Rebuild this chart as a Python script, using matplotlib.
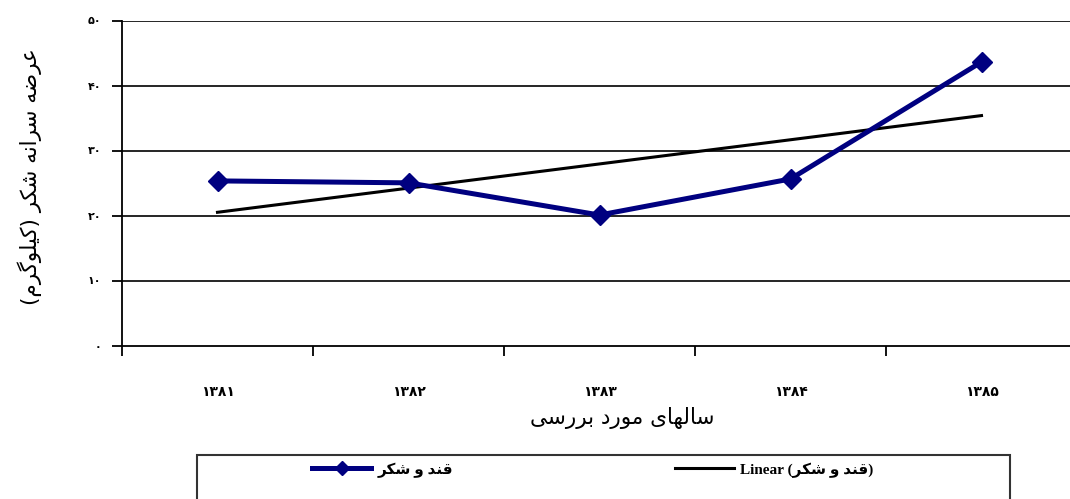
import numpy as np
import matplotlib
matplotlib.use('Agg')
from matplotlib import pyplot as plt
from matplotlib.patches import Rectangle

# data
years = ['۱۳۸۱', '۱۳۸۲', '۱۳۸۳', '۱۳۸۴', '۱۳۸۵']
sugar = [25.4, 25.1, 20.15, 25.7, 43.7]
y_ticks = [0, 10, 20, 30, 40, 50]
y_tick_labels = ['۰', '۱۰', '۲۰', '۳۰', '۴۰', '۵۰']

series_name = 'قند و شکر'
x_title = 'سالهای مورد بررسی'
y_title = 'عرضه سرانه شکر (کیلوگرم)'

# matplotlib has no arabic shaping, so pick the joined glyph forms by hand
FORMS = {
    'ا': ('\uFE8D', '\uFE8E'), 'د': ('\uFEA9', '\uFEAA'), 'ر': ('\uFEAD', '\uFEAE'),
    'و': ('\uFEED', '\uFEEE'),
    'ب': ('\uFE8F', '\uFE90', '\uFE91', '\uFE92'), 'س': ('\uFEB1', '\uFEB2', '\uFEB3', '\uFEB4'),
    'ش': ('\uFEB5', '\uFEB6', '\uFEB7', '\uFEB8'), 'ض': ('\uFEBD', '\uFEBE', '\uFEBF', '\uFEC0'),
    'ع': ('\uFEC9', '\uFECA', '\uFECB', '\uFECC'), 'ق': ('\uFED5', '\uFED6', '\uFED7', '\uFED8'),
    'ک': ('\uFB8E', '\uFB8F', '\uFB90', '\uFB91'), 'گ': ('\uFB92', '\uFB93', '\uFB94', '\uFB95'),
    'ل': ('\uFEDD', '\uFEDE', '\uFEDF', '\uFEE0'), 'م': ('\uFEE1', '\uFEE2', '\uFEE3', '\uFEE4'),
    'ن': ('\uFEE5', '\uFEE6', '\uFEE7', '\uFEE8'), 'ه': ('\uFEE9', '\uFEEA', '\uFEEB', '\uFEEC'),
    'ی': ('\uFBFC', '\uFBFD', '\uFBFE', '\uFBFF'),
}
MIRROR = {'(': ')', ')': '('}


def rtl(s):
    out = []
    for i, ch in enumerate(s):
        f = FORMS.get(ch)
        if f is None:
            out.append(ch)
            continue
        prev = s[i - 1] if i > 0 else ''
        nxt = s[i + 1] if i + 1 < len(s) else ''
        jp = prev in FORMS and len(FORMS[prev]) == 4
        jn = nxt in FORMS and len(f) == 4
        if jp and jn:
            out.append(f[3])
        elif jp:
            out.append(f[1])
        elif jn:
            out.append(f[2])
        else:
            out.append(f[0])
    return ''.join(MIRROR.get(c, c) for c in reversed(out))


FAM = ['DejaVu Sans']
BOLD_FAM = ['Liberation Serif', 'DejaVu Sans']

fig = plt.figure(figsize=(10.7, 4.99), dpi=100)
ax = fig.add_axes([122 / 1070, 1 - 346 / 499, 955 / 1070, 325 / 499])

x = np.arange(len(years))
trend = np.polyval(np.polyfit(x, sugar, 1), x)

ax.plot(x, sugar, color='#000080', lw=3.6, marker='D', markersize=10,
        label=rtl(series_name), zorder=3)
ax.plot(x, trend, color='black', lw=2.2, label='Linear (' + rtl(series_name) + ')', zorder=2)

ax.set_xlim(-0.5, len(years) - 0.5)
ax.set_ylim(0, 50)
ax.set_yticks(y_ticks)
ax.set_yticklabels(y_tick_labels, family=BOLD_FAM, fontweight='bold', fontsize=8)
ax.set_xticks(np.arange(-0.5, len(years)))
ax.set_xticklabels([])
ax.set_xticks(x, minor=True)
ax.set_xticklabels(years, minor=True, family=BOLD_FAM, fontweight='bold', fontsize=10)
ax.tick_params(axis='x', which='minor', length=0, pad=29)
ax.tick_params(axis='both', which='major', length=7, width=1.3, direction='out')
ax.tick_params(axis='y', pad=8)

for v in y_ticks[1:]:
    ax.axhline(v, color='black', lw=1.2, zorder=1)
for side in ['top', 'right']:
    ax.spines[side].set_visible(False)
ax.spines['left'].set_linewidth(1.3)
ax.spines['bottom'].set_linewidth(1.3)

fig.text(622 / 1070, 1 - 418 / 499, rtl(x_title), ha='center', va='center',
         family=FAM, fontsize=15.5)
fig.text(30 / 1070, 1 - 177 / 499, rtl(y_title), ha='center', va='center',
         rotation=90, family=FAM, fontsize=15.5)

# legend box, cut off by the bottom of the picture
fig.patches.append(Rectangle((197 / 1070, -0.1), 813 / 1070, 0.1 + 1 - 455 / 499,
                             transform=fig.transFigure, fill=False,
                             edgecolor='#333333', lw=1.5))
fig.legend(loc='center left', bbox_to_anchor=(298 / 1070, 1 - 470 / 499), ncol=2,
           frameon=False, handlelength=3.9, handletextpad=0.4, columnspacing=14.5,
           markerscale=0.75,
           prop={'family': BOLD_FAM, 'weight': 'bold', 'size': 11})

plt.savefig('out.png', dpi=100)
